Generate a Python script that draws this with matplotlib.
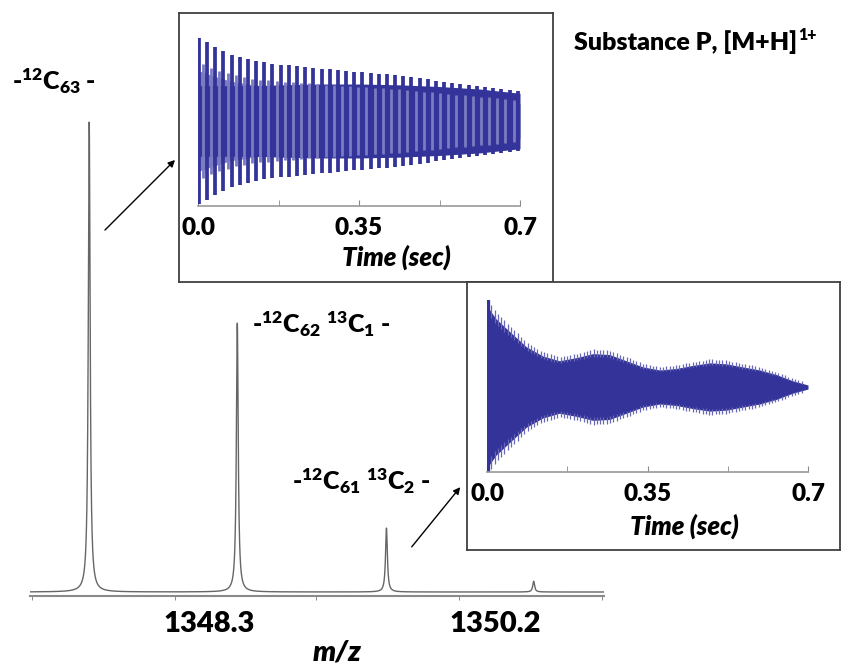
"""FT-ICR style figure: isotope envelope of Substance P with two transient insets."""
import matplotlib
matplotlib.use("Agg")
import matplotlib.pyplot as plt
import numpy as np
from matplotlib.patches import FancyArrowPatch

W, H = 841, 665

# ---- mass spectrum ----
PEAK_MZ = [1347.503, 1348.486, 1349.476, 1350.453]
PEAK_HEIGHT = [1.0, 0.572, 0.136, 0.023]
PEAK_HWHM = 0.0073
MZ_RANGE = (1347.11, 1350.92)
MZ_TICK_MARKS = [1347.12, 1348.07, 1349.01, 1349.96, 1350.91]
MZ_TICK_LABELS = [1348.3, 1350.2]
PEAK_LABELS = [
    r"-$^{12}$C$_{63}$ -",
    r"-$^{12}$C$_{62}$ $^{13}$C$_{1}$ -",
    r"-$^{12}$C$_{61}$ $^{13}$C$_{2}$ -",
]

# ---- transient 1: envelope of the beat spikes ----
T1_TIME = [0.0, 0.035, 0.071, 0.124, 0.178, 0.265, 0.352, 0.439, 0.526, 0.613, 0.7]
T1_TIP = [1.0, 0.889, 0.79, 0.711, 0.672, 0.625, 0.581, 0.541, 0.474, 0.415, 0.35]
T1_CORE = [0.42, 0.42, 0.42, 0.42, 0.43, 0.44, 0.44, 0.43, 0.41, 0.38, 0.33]
T1_BEATS = 40

# ---- transient 2: envelope ----
T2_TIME = [0.0, 0.020, 0.049, 0.086, 0.122, 0.158, 0.195, 0.231, 0.267, 0.304, 0.340,
           0.377, 0.413, 0.449, 0.486, 0.522, 0.558, 0.595, 0.631, 0.667, 0.7]
T2_ENV = [1.0, 0.84, 0.687, 0.496, 0.382, 0.324, 0.363, 0.412, 0.401, 0.324, 0.248,
          0.21, 0.229, 0.267, 0.298, 0.286, 0.248, 0.21, 0.153, 0.076, 0.025]

TIME_TICKS = [0.0, 0.35, 0.7]
TIME_LABELS = ["0.0", "0.35", "0.7"]

DARK = "#333399"
LIGHT = "#7b7bc2"

plt.rcParams["font.family"] = ["Lato", "DejaVu Sans"]
plt.rcParams["font.weight"] = "heavy"
plt.rcParams["mathtext.fontset"] = "custom"
plt.rcParams["mathtext.rm"] = "Lato:heavy"
plt.rcParams["mathtext.bf"] = "Lato:heavy"
plt.rcParams["mathtext.it"] = "Lato:heavy:italic"
plt.rcParams["mathtext.default"] = "rm"


def rect(x0, y0, x1, y1):
    return [x0 / W, 1 - y1 / H, (x1 - x0) / W, (y1 - y0) / H]


fig = plt.figure(figsize=(W / 100, H / 100), dpi=100)

# ---- main spectrum ----
ax = fig.add_axes(rect(30, 100, 604, 596))
mz = np.linspace(MZ_RANGE[0], MZ_RANGE[1], 8000)
inten = np.zeros_like(mz)
for c, h in zip(PEAK_MZ, PEAK_HEIGHT):
    inten += h * PEAK_HWHM ** 2 / ((mz - c) ** 2 + PEAK_HWHM ** 2)
ax.plot(mz, inten, color="#666666", lw=1.0)
ax.set_xlim(*MZ_RANGE)
ax.set_ylim(-0.0085, 1.047)
for s in ("top", "left", "right"):
    ax.spines[s].set_visible(False)
ax.spines["bottom"].set_color("#8a8a8a")
ax.spines["bottom"].set_linewidth(1.5)
ax.set_yticks([])
ax.set_xticks(MZ_TICK_LABELS)
ax.set_xticklabels([f"{v:.1f}" for v in MZ_TICK_LABELS], fontsize=21)
ax.set_xticks(MZ_TICK_MARKS, minor=True)
ax.tick_params(axis="x", which="major", length=0, pad=11)
ax.tick_params(axis="x", which="minor", length=3, color="#777777", direction="out")
ax.text(0.535, -0.113, "m/z", transform=ax.transAxes, fontsize=21,
        fontstyle="italic", ha="center", va="center")

label_pos = [(12, 90), (252, 333), (292, 490)]
for txt, (x, y) in zip(PEAK_LABELS, label_pos):
    fig.text(x / W, 1 - y / H, txt, fontsize=18, ha="left", va="baseline")

# ---- inset frames ----
for r in (rect(179, 13, 553, 282), rect(467, 282, 840, 550)):
    fr = fig.add_axes(r)
    fr.set_xticks([])
    fr.set_yticks([])
    for s in fr.spines.values():
        s.set_color("#404040")
        s.set_linewidth(1.3)


def style_inset(a, ylim, label_y):
    a.set_xlim(0, 0.7)
    a.set_ylim(*ylim)
    a.patch.set_alpha(0)
    for s in ("top", "left", "right"):
        a.spines[s].set_visible(False)
    a.spines["bottom"].set_color("#9a9a9a")
    a.spines["bottom"].set_linewidth(1.2)
    a.set_yticks([])
    a.set_xticks(TIME_TICKS)
    a.set_xticklabels(TIME_LABELS, fontsize=17.5)
    a.set_xticks([0.175, 0.525], minor=True)
    a.tick_params(axis="x", which="both", direction="in", length=4,
                  color="#8a8a8a", pad=8)
    a.text(0.615, label_y, "Time (sec)", transform=a.transAxes, fontsize=18.5,
           fontstyle="italic", ha="center", va="center")


# ---- inset 1 transient ----
a1 = fig.add_axes(rect(198, 30, 520, 206))
t = np.linspace(0, 0.7, 3000)
tip = np.interp(t, T1_TIME, T1_TIP)
core = np.interp(t, T1_TIME, T1_CORE)
a1.fill_between(t, -0.6 * tip, 0.6 * tip, color=LIGHT, lw=0)
beats = np.linspace(0.002, 0.695, T1_BEATS)
mids = (beats[:-1] + beats[1:]) / 2
mtip = np.interp(mids, T1_TIME, T1_TIP)
a1.vlines(mids, -0.7 * mtip, 0.7 * mtip, color=LIGHT, lw=2.0)
a1.fill_between(t, -core, core, color=DARK, lw=0)
btip = np.interp(beats, T1_TIME, T1_TIP)
a1.vlines(beats, -btip, btip, color=DARK, lw=2.7)
style_inset(a1, (-1.012, 1.083), -0.29)

# ---- inset 2 transient ----
a2 = fig.add_axes(rect(487, 290, 808, 472))
env = np.interp(t, T2_TIME, T2_ENV)
a2.fill_between(t, -0.93 * env, 0.93 * env, color=DARK, lw=0)
stripes = np.arange(0.002, 0.69, 0.0072)
senv = np.interp(stripes, T2_TIME, T2_ENV)
a2.vlines(stripes, 0.85 * senv, senv + 0.02, color="#6868b6", lw=0.9)
a2.vlines(stripes, -senv - 0.02, -0.85 * senv, color="#6868b6", lw=0.9)
a2.vlines(t[t < 0.004], -1.0, 1.0, color=DARK, lw=1.5)
style_inset(a2, (-0.977, 1.115), -0.30)

# ---- title ----
ttl = fig.text(574 / W, 1 - 50 / H, "Substance P, [M+H]", fontsize=18,
               ha="left", va="baseline")
fig.canvas.draw()
bb = ttl.get_window_extent(fig.canvas.get_renderer())
fig.text((bb.x1 + 1) / W, 1 - 40 / H, "1+", fontsize=11.5, ha="left", va="baseline")

# ---- arrows ----
for (x0, y0), (x1, y1) in [((103, 232), (177, 158)), ((410, 549), (462, 485))]:
    fig.add_artist(FancyArrowPatch((x0 / W, 1 - y0 / H), (x1 / W, 1 - y1 / H),
                                   transform=fig.transFigure, arrowstyle="-|>",
                                   mutation_scale=10, color="black", lw=1.0))

fig.savefig("out.png", dpi=100)
